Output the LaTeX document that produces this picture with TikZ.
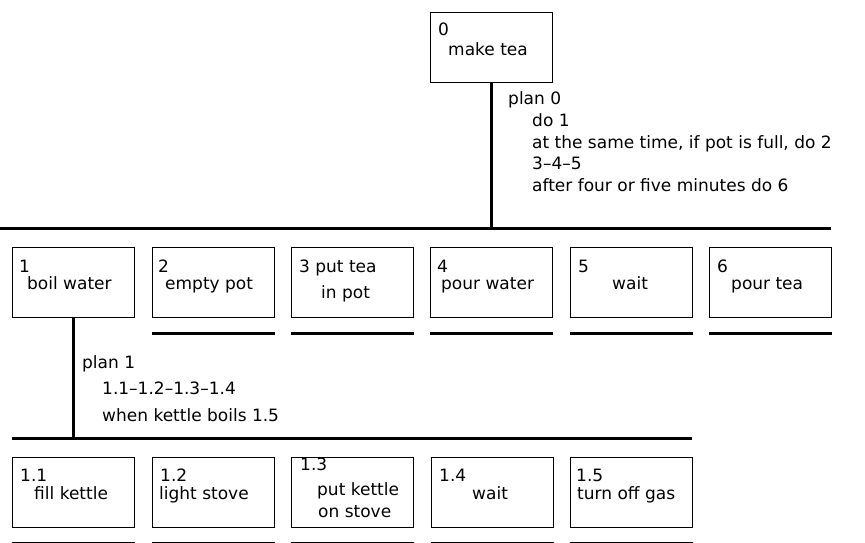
\documentclass[tikz,border=0pt]{standalone}
\usepackage{fontspec}
\setmainfont{DejaVu Sans}
\usetikzlibrary{calc}

\tikzset{
  task/.style={draw, line width=1.3pt, anchor=north west, inner sep=0pt,
    minimum width=122pt, minimum height=70pt},
  txt/.style={anchor=base west, inner sep=0pt},
  bar/.style={line width=3pt},
}

\begin{document}
\begin{tikzpicture}[x=1pt,y=-1pt,font=\fontsize{17}{20}\selectfont]
\useasboundingbox (0,0) rectangle (865,542);

% task boxes
\node[task] (t0) at (430,12) {};
\node[task] (t1) at (12,247) {};
\node[task] (t2) at (152,247) {};
\node[task] (t3) at (291,247) {};
\node[task] (t4) at (430,247) {};
\node[task] (t5) at (570,247) {};
\node[task] (t6) at (709,247) {};
\node[task] (t11) at (12,457) {};
\node[task] (t12) at (152,457) {};
\node[task] (t13) at (291,457) {};
\node[task] (t14) at (431,457) {};
\node[task] (t15) at (570,457) {};

% numbers and names
\node[txt] (n0) at ($(t0.north west)+(8,23)$) {0};
\node[txt] (l0) at ($(t0.north west)+(18,43)$) {make tea};

\node[txt] (n1) at ($(t1.north west)+(7,25)$) {1};
\node[txt] (l1) at ($(t1.north west)+(15,42)$) {boil water};
\node[txt] (n2) at ($(t2.north west)+(6,25)$) {2};
\node[txt] (l2) at ($(t2.north west)+(13,42)$) {empty pot};
\node[txt] (l3) at ($(t3.north west)+(8,25)$) {3 put tea};
\node[txt] (l3b) at ($(t3.north west)+(30,51)$) {in pot};
\node[txt] (n4) at ($(t4.north west)+(7,25)$) {4};
\node[txt] (l4) at ($(t4.north west)+(11,42)$) {pour water};
\node[txt] (n5) at ($(t5.north west)+(8,25)$) {5};
\node[txt] (l5) at ($(t5.north west)+(42,42)$) {wait};
\node[txt] (n6) at ($(t6.north west)+(8,25)$) {6};
\node[txt] (l6) at ($(t6.north west)+(22,42)$) {pour tea};

\node[txt] (n11) at ($(t11.north west)+(8,24)$) {1.1};
\node[txt] (l11) at ($(t11.north west)+(22,42)$) {fill kettle};
\node[txt] (n12) at ($(t12.north west)+(8,24)$) {1.2};
\node[txt] (l12) at ($(t12.north west)+(7,42)$) {light stove};
\node[txt] (n13) at ($(t13.north west)+(9,13)$) {1.3};
\node[txt] (l13) at ($(t13.north west)+(26,38)$) {put kettle};
\node[txt] (l13b) at ($(t13.north west)+(27,60)$) {on stove};
\node[txt] (n14) at ($(t14.north west)+(8,24)$) {1.4};
\node[txt] (l14) at ($(t14.north west)+(41,42)$) {wait};
\node[txt] (n15) at ($(t15.north west)+(6,24)$) {1.5};
\node[txt] (l15) at ($(t15.north west)+(7,42)$) {turn off gas};

% plans
\node[txt] (p0a) at (508,104) {plan 0};
\node[txt] (p0b) at (532,126) {do 1};
\node[txt] (p0c) at (532,148) {at the same time, if pot is full, do 2};
\node[txt] (p0d) at (532,169) {3--4--5};
\node[txt] (p0e) at (532,191) {after four or five minutes do 6};

\node[txt] (p1a) at (82,368) {plan 1};
\node[txt] (p1b) at (102,394) {1.1--1.2--1.3--1.4};
\node[txt] (p1c) at (102,421) {when kettle boils 1.5};

% buses
\coordinate (bus0w) at (0,228);
\coordinate (bus0e) at (831,228);
\coordinate (bus1w) at (12,438);
\coordinate (bus1e) at (692,438);

\draw[bar] (bus0w) -- (bus0e);
\draw[bar] (t0.south) -- (t0.south |- bus0w);
\draw[bar] (bus1w) -- (bus1e);
\draw[bar] (t1.south) -- (t1.south |- bus1w);

% underlines (no further breakdown)
\draw[bar] ([yshift=-15.5pt]t2.south west) -- ([yshift=-15.5pt]t2.south east);
\draw[bar] ([yshift=-15.5pt]t3.south west) -- ([yshift=-15.5pt]t3.south east);
\draw[bar] ([yshift=-15.5pt]t4.south west) -- ([yshift=-15.5pt]t4.south east);
\draw[bar] ([yshift=-15.5pt]t5.south west) -- ([yshift=-15.5pt]t5.south east);
\draw[bar] ([yshift=-15.5pt]t6.south west) -- ([yshift=-15.5pt]t6.south east);
\draw[bar] ([yshift=-15pt]t11.south west) -- ([yshift=-15pt]t11.south east);
\draw[bar] ([yshift=-15pt]t12.south west) -- ([yshift=-15pt]t12.south east);
\draw[bar] ([yshift=-15pt]t13.south west) -- ([yshift=-15pt]t13.south east);
\draw[bar] ([yshift=-15pt]t14.south west) -- ([yshift=-15pt]t14.south east);
\draw[bar] ([yshift=-15pt]t15.south west) -- ([yshift=-15pt]t15.south east);
\end{tikzpicture}
\end{document}
